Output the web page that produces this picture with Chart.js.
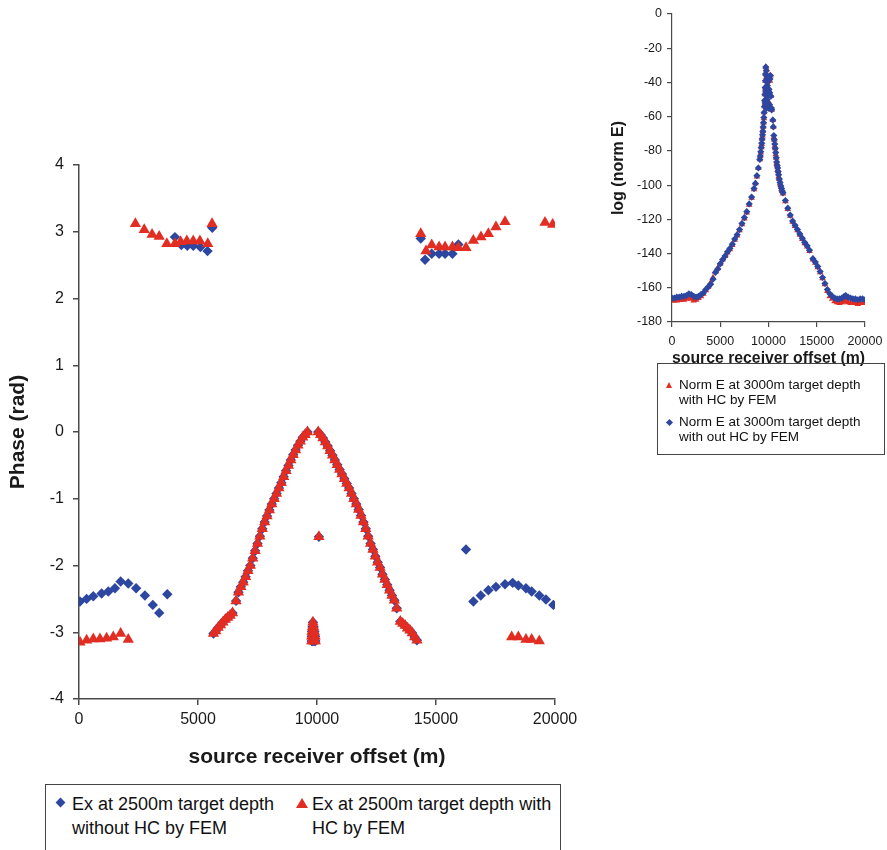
<!DOCTYPE html>
<html>
<head>
<meta charset="utf-8">
<script src="https://cdn.jsdelivr.net/npm/chart.js@4.4.0/dist/chart.umd.min.js"></script>
<style>
  html, body { margin: 0; padding: 0; background: #fff; width: 887px; height: 850px; overflow: hidden; }
  body { font-family: "Liberation Sans", Arial, sans-serif; color: #111; position: relative; }
  #mainChart { position: absolute; left: 0; top: 145px; }
  #insetChart { position: absolute; left: 600px; top: 0; }
  .legend { position: absolute; border: 1px solid #444; }
  .legend .txt { position: absolute; white-space: nowrap; }
  .diamond { position: absolute; background: #2d46a0; transform: rotate(45deg); }
  .tri { position: absolute; width: 0; height: 0; border-style: solid; border-color: transparent transparent #e22d23 transparent; }
  #mainLegend { left: 45px; top: 784px; width: 514px; height: 90px; font-size: 18px; line-height: 24px; }
  #insetLegend { left: 657px; top: 363px; width: 226px; height: 90px; font-size: 13.5px; line-height: 15px; }
</style>
</head>
<body>
<canvas id="mainChart" width="585" height="627"></canvas>
<canvas id="insetChart" width="290" height="370"></canvas>

<div class="legend" id="mainLegend">
  <div class="diamond" style="left:11px; top:14px; width:7px; height:7px;"></div>
  <div class="txt" style="left:26px; top:7px;">Ex at 2500m target depth<br>without HC by FEM</div>
  <div class="tri" style="left:250px; top:13px; border-width:0 6px 10px 6px;"></div>
  <div class="txt" style="left:266px; top:7px;">Ex at 2500m target depth with<br>HC by FEM</div>
</div>

<div class="legend" id="insetLegend">
  <div class="tri" style="left:8px; top:18px; border-width:0 3.5px 6px 3.5px;"></div>
  <div class="txt" style="left:21px; top:13px;">Norm E at 3000m target depth<br>with HC by FEM</div>
  <div class="diamond" style="left:9px; top:56px; width:5px; height:5px;"></div>
  <div class="txt" style="left:21px; top:50px;">Norm E at 3000m target depth<br>with out HC by FEM</div>
</div>

<script>
// ---- main chart: phase (rad) vs source receiver offset (m) ----
// points away from the central band, without HC (blue diamonds)
const blueOffsets = [40, 320, 600, 950, 1230, 1510, 1750, 2070, 2400, 2770, 3100, 3370, 3710,
  4030, 4300, 4550, 4800, 5100, 5400, 5600,
  14360, 14540, 14820, 15130, 15380, 15690, 15940,
  16260, 16570, 16880, 17200, 17520, 17900, 18220, 18460, 18780, 19020, 19340, 19620, 19930];
const bluePhases = [-2.54, -2.50, -2.46, -2.42, -2.39, -2.34, -2.24, -2.27, -2.34, -2.45, -2.59, -2.71, -2.43,
  2.92, 2.80, 2.79, 2.79, 2.77, 2.71, 3.06,
  2.90, 2.58, 2.67, 2.67, 2.67, 2.67, 2.81,
  -1.76, -2.54, -2.45, -2.37, -2.32, -2.28, -2.26, -2.30, -2.34, -2.39, -2.45, -2.51, -2.59];

// with HC (red triangles)
const redOffsets = [40, 320, 600, 880, 1160, 1440, 1750, 2070,
  2370, 2740, 3070, 3370, 3690, 4030, 4270, 4530, 4800, 5080, 5410, 5590,
  14360, 14580, 14820, 15130, 15380, 15690, 15940, 16260, 16570, 16890, 17200, 17520, 17900, 19580, 19900,
  18180, 18460, 18780, 19020, 19340];
const redPhases = [-3.15, -3.12, -3.10, -3.10, -3.09, -3.07, -3.02, -3.11,
  3.12, 3.03, 2.96, 2.93, 2.82, 2.82, 2.85, 2.86, 2.86, 2.86, 2.82, 3.12,
  2.97, 2.71, 2.80, 2.77, 2.77, 2.77, 2.76, 2.76, 2.87, 2.92, 2.97, 3.07, 3.15, 3.14, 3.11,
  -3.07, -3.07, -3.11, -3.11, -3.13];

// central band, both cases lie on top of each other
const leftBranchOffsets = [5650, 5750, 5850, 5950, 6050, 6150, 6250, 6350, 6450,
  6600, 6700, 6800, 6900, 7000, 7100, 7200, 7300, 7400, 7500, 7600, 7700, 7800, 7900, 8000,
  8100, 8200, 8300, 8400, 8500, 8600, 8700, 8800, 8900, 9000, 9100, 9200, 9300, 9400, 9500, 9600];
const leftBranchPhases = [-3.02, -2.98, -2.93, -2.89, -2.85, -2.81, -2.78, -2.75, -2.71,
  -2.53, -2.40, -2.32, -2.25, -2.17, -2.08, -2.00, -1.89, -1.78, -1.67, -1.56, -1.45, -1.35, -1.26, -1.17,
  -1.08, -1.00, -0.92, -0.84, -0.76, -0.67, -0.58, -0.50, -0.42, -0.34, -0.27, -0.20, -0.14, -0.08, -0.04, 0.00];
const rightBranchOffsets = [10050, 10150, 10250, 10350, 10450, 10550, 10650, 10750, 10850, 10950,
  11050, 11150, 11250, 11350, 11450, 11550, 11650, 11750, 11850, 11950, 12050, 12150, 12250, 12350,
  12450, 12550, 12650, 12750, 12850, 12950, 13050, 13150, 13250, 13350,
  13500, 13600, 13700, 13800, 13900, 14000, 14100, 14200];
const rightBranchPhases = [0.00, -0.04, -0.09, -0.15, -0.21, -0.28, -0.35, -0.42, -0.49, -0.56,
  -0.63, -0.70, -0.77, -0.84, -0.92, -1.00, -1.08, -1.16, -1.25, -1.35, -1.45, -1.56, -1.67, -1.76,
  -1.86, -1.95, -2.03, -2.13, -2.21, -2.29, -2.37, -2.45, -2.52, -2.64,
  -2.84, -2.87, -2.90, -2.94, -2.97, -3.01, -3.07, -3.12];
const centreOffsets = [10080, 9830, 9810, 9860, 9790, 9840, 9890, 9780, 9830, 9880, 9920, 9780, 9830, 9880, 9930];
const centrePhases = [-1.57, -2.85, -2.92, -2.92, -2.99, -2.99, -2.99, -3.06, -3.06, -3.06, -3.06, -3.13, -3.13, -3.13, -3.13];

// ---- inset: log(norm E) vs offset ----
const insetOffsets = [0, 250, 500, 750, 1000, 1250, 1500, 1750, 2000, 2250,
  2500, 2750, 3000, 3250, 3500, 3750, 4000, 4250, 4500, 4750,
  5000, 5250, 5500, 5750, 6000, 6250, 6500, 6750, 7000, 7250,
  7500, 7750, 8000, 8250, 8500, 8650, 8800, 8950, 9100, 9200,
  9300, 9380, 9450, 9520, 9580, 9630, 9680, 9720, 9760, 9800,
  9850, 9900, 9950, 10000, 10050, 10100, 10150, 10300, 10450, 10500,
  10550, 10650, 10750, 10850, 10950, 11050, 11200, 11350, 11500, 11750,
  12000, 12250, 12500, 12750, 13000, 13250, 13500, 13750, 14000, 14250,
  14600, 14850, 15100, 15350, 15600, 15850, 16100, 16350, 16600, 16850,
  17100, 17350, 17600, 17850, 18000, 18250, 18500, 18750, 19000, 19250,
  19500, 19750, 20000];
const insetBlue = [-166, -166, -165.5, -165.5, -165, -165, -164.5, -163.5, -164, -165,
  -165.5, -165, -164, -163, -161, -159.5, -158, -155, -151, -149,
  -146, -143.5, -141.5, -139, -137, -134.5, -131.5, -129, -126, -122.5,
  -119, -115.5, -111, -107, -102, -99, -94.5, -90, -85, -80.5,
  -75.5, -70.5, -66, -60.5, -54, -47, -39, -31, -36, -44,
  -50, -40, -47, -37, -44, -53, -38, -55, -62, -66,
  -71, -76, -81, -86.5, -90, -94, -98.5, -102, -104.5, -109,
  -113.5, -117.5, -121, -123.5, -126, -128.5, -131, -133.5, -135.5, -138,
  -143, -145, -147.5, -150.5, -154, -157.5, -161, -163.5, -165, -166,
  -166.5, -166.5, -166, -165, -164.5, -165.5, -166, -166.5, -166.5, -167,
  -166.5, -166.5, -167];
const insetRed = [-167.5, -167.5, -167.5, -167, -167, -167, -166.5, -165.5, -166.5, -167.5,
  -167, -166, -165, -163.5, -161.5, -159.5, -157, -154, -150.5, -148.5,
  -146, -143.5, -141.5, -139.5, -137.5, -135, -132, -129.5, -126.5, -123,
  -119.5, -116, -111.5, -107.5, -102.5, -99, -95, -90, -85, -81,
  -76, -71, -66, -61, -54, -47, -39, -31, -37, -44,
  -51, -41, -48, -38, -45, -52, -39, -55, -62, -66,
  -72, -77, -82, -87, -91, -95, -99, -102.5, -105, -109.5,
  -114, -118, -121.5, -124, -126.5, -129, -131.5, -134, -136, -138.5,
  -143.5, -145.5, -148, -151, -154.5, -158, -162, -165, -166.5, -168,
  -168.5, -169, -168.5, -168, -167.5, -168.5, -169, -169, -169, -169.5,
  -169, -169, -169];
// extra points read on the steep flanks and in the peak
const extraOffsets = [9150, 9250, 9340, 9415, 9485, 9550, 9605, 9655, 9700,
  9650, 9700, 9740, 9780, 9820, 9870, 9920, 9970, 10020, 10070, 10120, 10200, 10250, 10330,
  10600, 10700, 10800, 10900, 11000, 11120, 11280, 11420];
const extraValues = [-83, -78, -73, -68.5, -63.5, -57.5, -50.5, -43, -35,
  -52, -45, -50, -33, -55, -42, -52, -45, -55, -38, -46, -36, -48, -56,
  -73.5, -78.5, -84, -88.5, -92, -96.5, -100.5, -103.5];

const BLUE = '#2d46a0';
const RED = '#e22d23';
const FONT = '"Liberation Sans", Arial, sans-serif';
const AXIS = '#4a4a4a';

function pts(xs, ys) {
  return xs.map((x, i) => ({ x: x, y: ys[i] }));
}
const plain = v => String(v);

Chart.defaults.font.family = FONT;
Chart.defaults.color = '#1a1a1a';
Chart.defaults.animation = false;

const centreX = leftBranchOffsets.concat(rightBranchOffsets, centreOffsets);
const centreY = leftBranchPhases.concat(rightBranchPhases, centrePhases);

new Chart(document.getElementById('mainChart'), {
  type: 'scatter',
  data: {
    datasets: [{
      label: 'Ex at 2500m target depth with HC by FEM',
      data: pts(redOffsets.concat(centreX), redPhases.concat(centreY)),
      pointStyle: 'triangle',
      pointRadius: 6.5,
      pointBorderWidth: 0,
      backgroundColor: RED,
      borderColor: RED
    }, {
      label: 'Ex at 2500m target depth without HC by FEM',
      data: pts(blueOffsets.concat(centreX), bluePhases.concat(centreY)),
      pointStyle: 'rectRot',
      pointRadius: 5.2,
      pointBorderWidth: 0,
      backgroundColor: BLUE,
      borderColor: BLUE
    }]
  },
  options: {
    responsive: false,
    devicePixelRatio: 1,
    layout: { padding: { top: 20, right: 30, left: 0, bottom: 0 } },
    plugins: { legend: { display: false }, tooltip: { enabled: false } },
    scales: {
      x: {
        type: 'linear',
        min: 0, max: 20000,
        ticks: { stepSize: 5000, font: { size: 16 }, padding: 5, maxRotation: 0, callback: plain },
        grid: { drawOnChartArea: false, drawTicks: true, tickLength: 6, color: AXIS, lineWidth: 1.5 },
        border: { display: true, color: AXIS, width: 1.5 },
        title: { display: true, text: 'source receiver offset (m)', font: { size: 21, weight: 'bold' }, padding: { top: 0, bottom: 2 } },
        afterFit: function (scale) { scale.height = 73; }
      },
      y: {
        min: -4, max: 4,
        ticks: { stepSize: 1, font: { size: 16 }, padding: 9, callback: plain },
        grid: { drawOnChartArea: false, drawTicks: true, tickLength: 6, color: AXIS, lineWidth: 1.5 },
        border: { display: true, color: AXIS, width: 1.5 },
        title: { display: true, text: 'Phase (rad)', font: { size: 21, weight: 'bold' }, padding: { top: 6, bottom: 0 } },
        afterFit: function (scale) { scale.width = 79; }
      }
    }
  }
});

new Chart(document.getElementById('insetChart'), {
  type: 'scatter',
  data: {
    datasets: [{
      label: 'Norm E at 3000m target depth with out HC by FEM',
      data: pts(insetOffsets.concat(extraOffsets), insetBlue.concat(extraValues)),
      pointStyle: 'rectRot',
      pointRadius: 3.6,
      pointBorderWidth: 0,
      backgroundColor: BLUE,
      borderColor: BLUE
    }, {
      label: 'Norm E at 3000m target depth with HC by FEM',
      data: pts(insetOffsets.concat(extraOffsets), insetRed.concat(extraValues)),
      pointStyle: 'triangle',
      pointRadius: 3.8,
      pointBorderWidth: 0,
      backgroundColor: RED,
      borderColor: RED
    }]
  },
  options: {
    responsive: false,
    devicePixelRatio: 1,
    layout: { padding: { top: 14, right: 25, left: 0, bottom: 0 } },
    plugins: { legend: { display: false }, tooltip: { enabled: false } },
    scales: {
      x: {
        type: 'linear',
        min: 0, max: 20000,
        ticks: { stepSize: 5000, font: { size: 12.5 }, padding: 7, maxRotation: 0, callback: plain },
        grid: { drawOnChartArea: false, drawTicks: true, tickLength: 5, color: AXIS, lineWidth: 1.2 },
        border: { display: true, color: AXIS, width: 1.2 },
        title: { display: true, text: 'source receiver offset (m)', font: { size: 16, weight: 'bold' }, padding: { top: 0, bottom: 2 } },
        afterFit: function (scale) { scale.height = 48; }
      },
      y: {
        min: -180, max: 0,
        ticks: { stepSize: 20, font: { size: 12.5 }, padding: 5, callback: plain },
        grid: { drawOnChartArea: false, drawTicks: true, tickLength: 5, color: AXIS, lineWidth: 1.2 },
        border: { display: true, color: AXIS, width: 1.2 },
        title: { display: true, text: 'log (norm E)', font: { size: 16, weight: 'bold' }, padding: { top: 9, bottom: 0 } },
        afterFit: function (scale) { scale.width = 72; }
      }
    }
  }
});
</script>
</body>
</html>
